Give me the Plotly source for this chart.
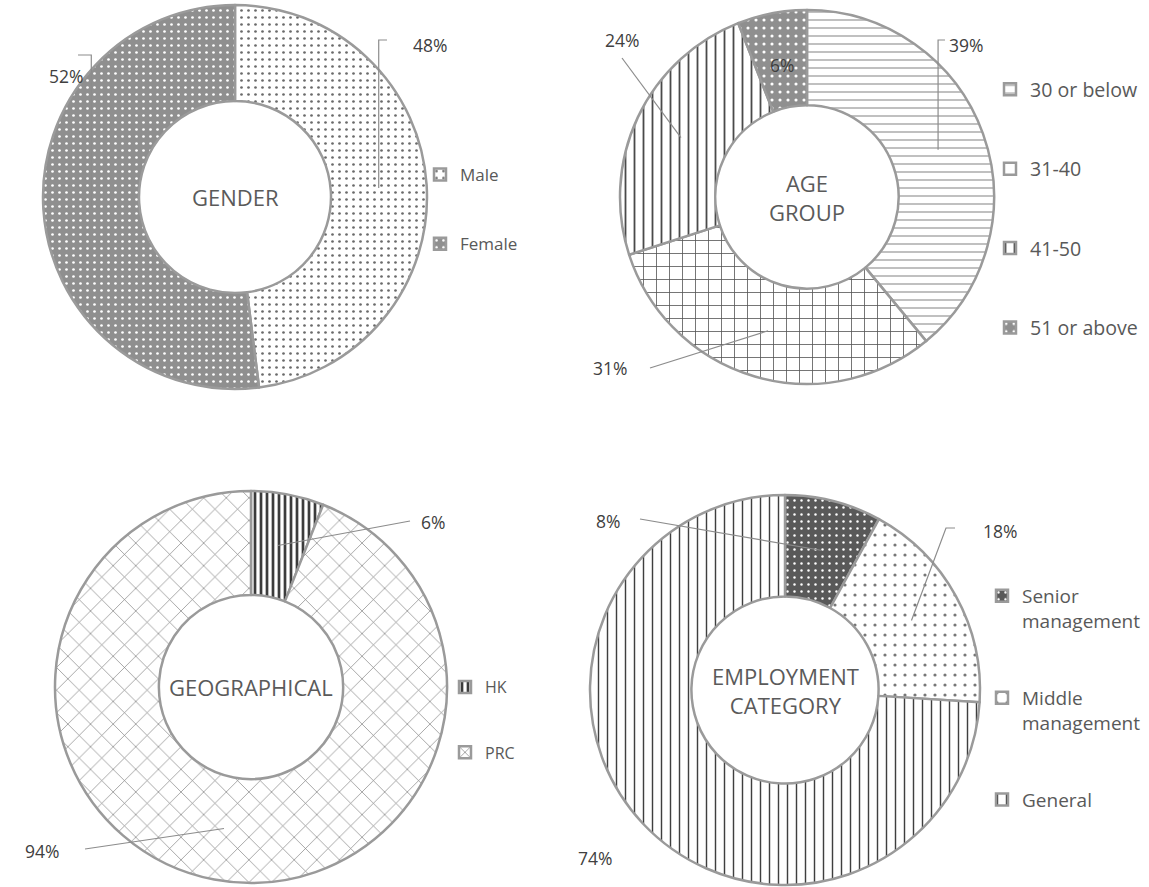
import math
import plotly.graph_objects as go

W, H = 1149, 887

# ---------------- data ----------------
gender_labels = ["Male", "Female"]
gender_values = [48, 52]

age_labels = ["30 or below", "31-40", "41-50", "51 or above"]
age_values = [39, 31, 24, 6]

geo_labels = ["HK", "PRC"]
geo_values = [6, 94]

emp_labels = ["Senior management", "Middle management", "General"]
emp_values = [8, 18, 74]

# ---------------- layout / style config ----------------
FONT = "Open Sans"
TXT = "#404040"
LEG = "#595959"
LINE = "#8c8c8c"

charts = [
    dict(labels=gender_labels, values=gender_values, cx=235, cy=197, r=192, hole=0.5,
         title="GENDER", legend="legend", leg_x=420, leg_top=157, leg_font=17, pad=2,
         shape=[".", "."], bg=["#ffffff", "#8f8f8f"], fg=["#6a6a6a", "#ffffff"],
         size=[7, 7], sol=[0.12, 0.12],
         lab=[dict(t=(430, 45), kind=("vert", 40, 387)),
              dict(t=(66, 76), kind=("vert", 55, 78))]),
    dict(labels=age_labels, values=age_values, cx=807, cy=197, r=187, hole=0.49,
         title="AGE<br>GROUP", legend="legend2", leg_x=990, leg_top=70, leg_font=19.6, pad=2,
         shape=["-", "+", "|", "."], bg=["#ffffff", "#ffffff", "#ffffff", "#8f8f8f"],
         fg=["#7a7a7a", "#555555", "#4a4a4a", "#ffffff"],
         size=[8, 13, 9, 8], sol=[0.12, 0.12, 0.2, 0.12],
         lab=[dict(t=(966, 45), kind=("vert", 40, 945)),
              dict(t=(610, 368), kind=("straight", (650, 368))),
              dict(t=(622, 40), kind=("straight", (622, 58))),
              dict(t=None, kind=None, inside=0.72)]),
    dict(labels=geo_labels, values=geo_values, cx=251, cy=687, r=196, hole=0.47,
         title="GEOGRAPHICAL", legend="legend3", leg_x=445, leg_top=670, leg_font=16, pad=2,
         shape=["|", "x"], bg=["#ffffff", "#ffffff"], fg=["#3c3c3c", "#7a7a7a"],
         size=[6, 16], sol=[0.45, 0.08],
         lab=[dict(t=(433, 522), kind=("straight", (410, 521))),
              dict(t=(42, 851), kind=("straight", (85, 849)))]),
    dict(labels=emp_labels, values=emp_values, cx=785, cy=690, r=195, hole=0.48,
         title="EMPLOYMENT<br>CATEGORY", legend="legend4", leg_x=982, leg_top=577, leg_font=19, pad=3,
         shape=[".", ".", "|"], bg=["#595959", "#ffffff", "#ffffff"],
         fg=["#ffffff", "#777777", "#3f3f3f"],
         size=[7, 10, 9], sol=[0.1, 0.08, 0.16],
         lab=[dict(t=(608, 521), kind=("straight", (640, 519))),
              dict(t=(1000, 531), kind=("elbow", (946, 528), (955, 528))),
              dict(t=(595, 858), kind=None)]),
]


def px2paper(x, y):
    return x / W, 1 - y / H


def text_ann(x, y, text, size, color):
    return dict(x=x, y=y, xref="paper", yref="paper", text=text, showarrow=False,
                xanchor="center", yanchor="middle",
                font=dict(family=FONT, size=size, color=color))


fig = go.Figure()
annotations = []
shapes = []
layout_legends = {}

for c in charts:
    cx, cy, r = c["cx"], c["cy"], c["r"]
    x0, y0 = px2paper(cx - r, cy + r)
    x1, y1 = px2paper(cx + r, cy - r)
    # legend label text: wrap two-word labels and pad with blank lines for spacing
    leg_labels = []
    for lab in c["labels"]:
        if c["legend"] == "legend4":
            parts = lab.split(" ")
            lines = parts + ["&nbsp;"] * (2 if len(parts) > 1 else 0)
        else:
            lines = [lab] + ["&nbsp;"] * c["pad"]
        leg_labels.append("<br>".join(lines))
    fig.add_trace(go.Pie(
        labels=leg_labels, values=c["values"], sort=False, direction="clockwise",
        rotation=0, hole=c["hole"], textinfo="none", hoverinfo="label+percent",
        domain=dict(x=[max(0, x0), min(1, x1)], y=[max(0, y0), min(1, y1)]),
        legend=c["legend"],
        marker=dict(colors=c["bg"], line=dict(color="#9a9a9a", width=2.5),
                    pattern=dict(shape=c["shape"], bgcolor=c["bg"], fgcolor=c["fg"],
                                 size=c["size"], solidity=c["sol"], fillmode="replace")),
    ))
    lx, ly = px2paper(c["leg_x"], c["leg_top"])
    layout_legends[c["legend"]] = dict(
        x=lx, y=ly, xanchor="left", yanchor="top", valign="top",
        font=dict(family=FONT, size=c["leg_font"], color=LEG),
        bgcolor="rgba(0,0,0,0)", itemclick=False, itemdoubleclick=False)

    # centre title
    tx, ty = px2paper(cx, cy)
    annotations.append(text_ann(tx, ty, c["title"], 22, "#5a5a5a"))

    # percentage labels with leader lines, anchored at the middle of each slice
    total = sum(c["values"])
    cum = 0
    rr_mid = r * (1 + c["hole"]) / 2
    for v, spec in zip(c["values"], c["lab"]):
        ang = math.radians(360 * (cum + v / 2) / total)
        cum += v
        pct = f"{round(100 * v / total)}%"
        if spec.get("inside"):
            rr = r * spec["inside"]
            px, py = cx + rr * math.sin(ang), cy - rr * math.cos(ang)
            ax_, ay_ = px2paper(px, py)
            annotations.append(text_ann(ax_, ay_, pct, 17.5, TXT))
            continue
        apx, apy = cx + rr_mid * math.sin(ang), cy - rr_mid * math.cos(ang)
        kind = spec["kind"]
        pts = None
        if kind is not None:
            if kind[0] == "vert":
                pts = [(apx, apy), (apx, kind[1]), (kind[2], kind[1])]
            elif kind[0] == "straight":
                pts = [(apx, apy), kind[1]]
            elif kind[0] == "elbow":
                pts = [(apx, apy), kind[1], kind[2]]
        if pts:
            path = ""
            for i, (qx, qy) in enumerate(pts):
                pxp, pyp = px2paper(qx, qy)
                path += ("M" if i == 0 else "L") + f"{pxp:.5f},{pyp:.5f} "
            shapes.append(dict(type="path", path=path.strip(), xref="paper", yref="paper",
                               line=dict(color=LINE, width=1.2)))
        tx_, ty_ = px2paper(*spec["t"])
        annotations.append(text_ann(tx_, ty_, pct, 17.5, TXT))

fig.update_layout(
    width=W, height=H, margin=dict(l=0, r=0, t=0, b=0),
    paper_bgcolor="white", plot_bgcolor="white",
    showlegend=True, annotations=annotations, shapes=shapes,
    font=dict(family=FONT, color=TXT),
    **layout_legends,
)

fig.write_html("out.html")
